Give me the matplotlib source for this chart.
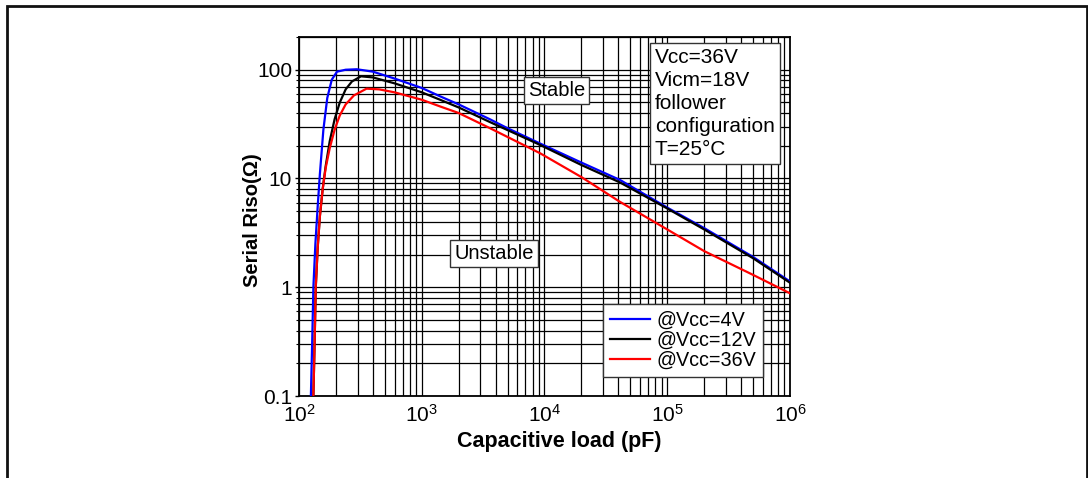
import matplotlib
matplotlib.use('Agg')
import matplotlib.pyplot as plt
from matplotlib.patches import Rectangle

plt.rcParams['font.family'] = ['Liberation Sans', 'DejaVu Sans']
plt.rcParams['mathtext.fontset'] = 'custom'
plt.rcParams['mathtext.rm'] = 'Liberation Sans'

# capacitive load (pF) and serial Riso (ohm)
cap_4v = [125, 128, 131, 136, 142, 148, 158, 170, 185, 204, 240, 296, 400,
          600, 1000, 1409, 2000, 3600, 5000, 9180, 20000, 41200, 100000,
          200000, 500000, 1000000]
riso_4v = [0.1, 0.3, 1.0, 2.5, 5.5, 11, 28, 55, 81, 96, 100, 101, 96,
           83, 68, 57, 48, 35, 29, 21, 14, 9.7, 5.4,
           3.5, 1.9, 1.13]

cap_12v = [131, 134, 137, 142, 148, 156, 165, 178, 195, 215, 240, 270, 320,
           400, 600, 1000, 1409, 2000, 3600, 9180, 20000, 41200, 100000,
           200000, 500000, 1000000]
riso_12v = [0.1, 0.3, 1.0, 2.3, 4.5, 8, 13, 22, 35, 50, 66, 78, 87,
            85, 75, 62, 53, 45, 33, 20.4, 13.3, 9.2, 5.3,
            3.4, 1.85, 1.1]

cap_36v = [131, 134, 137, 142, 148, 156, 165, 178, 195, 215, 240, 280, 355,
           450, 600, 1000, 1409, 2000, 3600, 9180, 20000, 41200, 100000,
           200000, 500000, 1000000]
riso_36v = [0.1, 0.3, 1.0, 2.3, 4.5, 8, 12.5, 19, 28, 38, 48, 58, 67,
            66, 62, 53, 46, 40, 29, 17.1, 10.3, 6.1, 3.4,
            2.15, 1.3, 0.88]

series_labels = ['@Vcc=4V', '@Vcc=12V', '@Vcc=36V']
series_colors = ['#0000ff', '#000000', '#ff0000']

xticks = [1e2, 1e3, 1e4, 1e5, 1e6]
xtick_labels = [r'$\mathregular{10^2}$', r'$\mathregular{10^3}$',
                r'$\mathregular{10^4}$', r'$\mathregular{10^5}$',
                r'$\mathregular{10^6}$']
yticks = [0.1, 1, 10, 100]
ytick_labels = ['0.1', '1', '10', '100']

cond_text = 'Vcc=36V\nVicm=18V\nfollower\nconfiguration\nT=25°C'

fig = plt.figure(figsize=(10.88, 4.78), dpi=100)
ax = fig.add_axes([0.2748, 0.1715, 0.4513, 0.7511])

for c, r, lab, col in zip([cap_4v, cap_12v, cap_36v],
                          [riso_4v, riso_12v, riso_36v],
                          series_labels, series_colors):
    ax.plot(c, r, color=col, lw=1.6, label=lab, zorder=3)

ax.set_xscale('log')
ax.set_yscale('log')
ax.set_xlim(1e2, 1e6)
ax.set_ylim(0.1, 200)
ax.grid(True, which='both', color='black', lw=0.9)
ax.set_xticks(xticks)
ax.set_xticklabels(xtick_labels, fontsize=15)
ax.set_yticks(yticks)
ax.set_yticklabels(ytick_labels, fontsize=15)
ax.tick_params(which='major', length=3, width=1, pad=2)
ax.tick_params(which='minor', length=2, width=0.8)
ax.tick_params(axis='x', which='both', length=0, pad=6)
for s in ax.spines.values():
    s.set_linewidth(1.3)

ax.set_xlabel('Capacitive load (pF)', fontsize=15.5, fontweight='bold')
ax.xaxis.set_label_coords(0.53, -0.098)
ax.set_ylabel('Serial Riso(Ω)', fontsize=14.5, fontweight='bold')
ax.yaxis.set_label_coords(-0.076, 0.49)

box = dict(boxstyle='square,pad=0.2', fc='white', ec='#333333', lw=1)
ax.text(12600, 65, 'Stable', fontsize=14.5, ha='center', va='center', bbox=box, zorder=4)
ax.text(3880, 2.06, 'Unstable', fontsize=14.5, ha='center', va='center', bbox=box, zorder=4)
ax.text(0.725, 0.968, cond_text, transform=ax.transAxes, fontsize=15,
        ha='left', va='top', linespacing=1.26,
        bbox=dict(boxstyle='square,pad=0.25', fc='white', ec='#333333', lw=1), zorder=4)

leg = ax.legend(loc='lower right', bbox_to_anchor=(0.945, 0.053), fontsize=14.2,
                frameon=True, fancybox=False, framealpha=1, edgecolor='#333333',
                handlelength=2.05, handletextpad=0.3, borderpad=0.35,
                labelspacing=0.05, borderaxespad=0)
leg.get_frame().set_linewidth(1)
leg.set_zorder(5)

fig.patches.append(Rectangle((7 / 1088, -0.05), 1080 / 1088, 1.05 - 6 / 478,
                             transform=fig.transFigure, fill=False,
                             ec='#111111', lw=2, clip_on=False))

fig.savefig('out.png', dpi=100)
